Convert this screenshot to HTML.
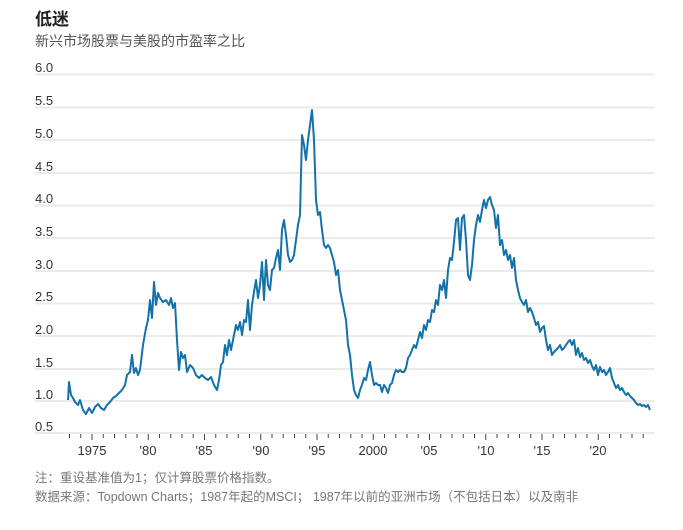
<!DOCTYPE html>
<html><head><meta charset="utf-8"><style>
body{margin:0;background:#fff;width:683px;height:525px;overflow:hidden;font-family:"Liberation Sans","Noto Sans CJK SC",sans-serif}
</style></head><body>
<svg width="683" height="525" xmlns="http://www.w3.org/2000/svg" style="font-family:'Liberation Sans','Noto Sans CJK SC',sans-serif">
<text x="35" y="25" font-size="17" font-weight="bold" fill="#222">低迷</text>
<text x="35" y="46" font-size="14" fill="#555">新兴市场股票与美股的市盈率之比</text>
<g stroke="#ebebeb" stroke-width="2">
<line x1="35" x2="655" y1="74.5" y2="74.5"/><line x1="35" x2="655" y1="107.5" y2="107.5"/>
<line x1="35" x2="655" y1="140" y2="140"/><line x1="35" x2="655" y1="173" y2="173"/>
<line x1="35" x2="655" y1="205.5" y2="205.5"/><line x1="35" x2="655" y1="238" y2="238"/>
<line x1="35" x2="655" y1="271" y2="271"/><line x1="35" x2="655" y1="303.5" y2="303.5"/>
<line x1="35" x2="655" y1="336" y2="336"/><line x1="35" x2="655" y1="369" y2="369"/>
<line x1="35" x2="655" y1="401" y2="401"/><line x1="35" x2="655" y1="433" y2="433"/>
</g>
<g font-size="13" fill="#333">
<text x="35" y="72">6.0</text><text x="35" y="105">5.5</text><text x="35" y="138">5.0</text>
<text x="35" y="171">4.5</text><text x="35" y="203">4.0</text><text x="35" y="236">3.5</text>
<text x="35" y="269">3.0</text><text x="35" y="301">2.5</text><text x="35" y="334">2.0</text>
<text x="35" y="367">1.5</text><text x="35" y="399">1.0</text><text x="35" y="431">0.5</text>
</g>
<g stroke="#444" stroke-width="1">
<line x1="69.5" x2="69.5" y1="434" y2="438"/><line x1="80.75" x2="80.75" y1="434" y2="438"/>
<line x1="92" x2="92" y1="434" y2="440"/><line x1="103.25" x2="103.25" y1="434" y2="438"/>
<line x1="114.5" x2="114.5" y1="434" y2="438"/><line x1="125.75" x2="125.75" y1="434" y2="438"/>
<line x1="137" x2="137" y1="434" y2="438"/><line x1="148.25" x2="148.25" y1="434" y2="440"/>
<line x1="159.5" x2="159.5" y1="434" y2="438"/><line x1="170.75" x2="170.75" y1="434" y2="438"/>
<line x1="182" x2="182" y1="434" y2="438"/><line x1="193.25" x2="193.25" y1="434" y2="438"/>
<line x1="204.5" x2="204.5" y1="434" y2="440"/><line x1="215.75" x2="215.75" y1="434" y2="438"/>
<line x1="227" x2="227" y1="434" y2="438"/><line x1="238.25" x2="238.25" y1="434" y2="438"/>
<line x1="249.5" x2="249.5" y1="434" y2="438"/><line x1="260.75" x2="260.75" y1="434" y2="440"/>
<line x1="272" x2="272" y1="434" y2="438"/><line x1="283.25" x2="283.25" y1="434" y2="438"/>
<line x1="294.5" x2="294.5" y1="434" y2="438"/><line x1="305.75" x2="305.75" y1="434" y2="438"/>
<line x1="317" x2="317" y1="434" y2="440"/><line x1="328.25" x2="328.25" y1="434" y2="438"/>
<line x1="339.5" x2="339.5" y1="434" y2="438"/><line x1="350.75" x2="350.75" y1="434" y2="438"/>
<line x1="362" x2="362" y1="434" y2="438"/><line x1="373.25" x2="373.25" y1="434" y2="440"/>
<line x1="384.5" x2="384.5" y1="434" y2="438"/><line x1="395.75" x2="395.75" y1="434" y2="438"/>
<line x1="407" x2="407" y1="434" y2="438"/><line x1="418.25" x2="418.25" y1="434" y2="438"/>
<line x1="429.5" x2="429.5" y1="434" y2="440"/><line x1="440.75" x2="440.75" y1="434" y2="438"/>
<line x1="452" x2="452" y1="434" y2="438"/><line x1="463.25" x2="463.25" y1="434" y2="438"/>
<line x1="474.5" x2="474.5" y1="434" y2="438"/><line x1="485.75" x2="485.75" y1="434" y2="440"/>
<line x1="497" x2="497" y1="434" y2="438"/><line x1="508.25" x2="508.25" y1="434" y2="438"/>
<line x1="519.5" x2="519.5" y1="434" y2="438"/><line x1="530.75" x2="530.75" y1="434" y2="438"/>
<line x1="542" x2="542" y1="434" y2="440"/><line x1="553.25" x2="553.25" y1="434" y2="438"/>
<line x1="564.5" x2="564.5" y1="434" y2="438"/><line x1="575.75" x2="575.75" y1="434" y2="438"/>
<line x1="587" x2="587" y1="434" y2="438"/><line x1="598.25" x2="598.25" y1="434" y2="440"/>
<line x1="609.5" x2="609.5" y1="434" y2="438"/><line x1="620.75" x2="620.75" y1="434" y2="438"/>
<line x1="632" x2="632" y1="434" y2="438"/><line x1="643.25" x2="643.25" y1="434" y2="438"/>
</g>
<g font-size="13" fill="#333" text-anchor="middle">
<text x="92" y="455">1975</text><text x="148" y="455">'80</text><text x="204" y="455">'85</text>
<text x="261" y="455">'90</text><text x="317" y="455">'95</text><text x="373" y="455">2000</text>
<text x="429" y="455">'05</text><text x="486" y="455">'10</text><text x="542" y="455">'15</text>
<text x="598" y="455">'20</text>
</g>
<polyline fill="none" stroke="#1272a9" stroke-width="2" stroke-linejoin="round" points="68,400 69,382 71,395 73,398 75,402 78,405 80,400 83,410 86,414 89,408 92,413 95,407 98,404 101,408 104,410 107,405 110,402 113,398 116,396 119,393 122,390 125,385 127,375 130,372 132,355 134,373 136,368 138,375 140,370 143,345 146,328 148,320 150,300 152,318 154,282 156,305 158,293 160,298 163,302 166,300 169,305 171,298 173,308 175,303 177,340 179,370 181,352 183,358 185,355 187,372 190,365 193,368 196,375 199,378 202,375 205,378 208,380 211,377 214,385 217,390 219,380 221,365 223,362 225,345 227,355 229,340 231,350 234,335 236,325 238,330 240,322 242,335 244,320 246,322 248,300 250,330 252,305 254,292 256,280 258,298 260,285 262,262 264,300 266,260 268,285 270,290 272,270 274,268 276,258 278,250 280,270 282,230 284,220 286,235 288,255 290,262 292,260 294,255 296,240 298,225 300,215 302,135 304,145 306,160 308,140 310,125 312,110 314,140 316,200 318,215 320,212 322,230 324,245 326,248 328,245 330,248 332,255 334,262 336,275 338,270 340,290 342,300 344,310 346,320 348,345 350,355 352,375 354,390 356,395 358,398 360,390 362,385 364,378 366,380 368,370 370,362 372,375 374,385 376,383 378,385 380,385 382,392 384,385 386,388 388,393 390,385 392,383 394,375 396,370 398,372 400,370 402,372 404,372 406,368 408,358 410,355 412,350 414,345 416,348 418,340 420,332 422,338 424,325 426,330 428,320 430,322 432,310 434,312 436,300 438,305 440,285 442,290 444,280 446,298 448,270 450,258 452,260 454,242 456,220 458,218 460,250 462,218 464,215 466,240 468,275 470,280 472,265 474,240 476,225 478,215 480,222 482,210 484,200 486,208 488,200 490,197 492,205 494,210 496,228 498,215 500,245 502,240 504,255 506,250 508,260 510,255 512,268 514,258 516,280 518,290 520,298 522,302 524,305 526,300 528,312 530,308 532,312 534,318 536,325 538,322 540,332 542,328 544,326 546,340 548,350 550,345 552,355 554,352 556,350 558,348 560,345 562,350 564,348 566,345 568,342 570,340 572,345 574,340 576,355 578,348 580,357 582,353 584,360 586,358 588,363 590,360 592,366 594,370 596,365 598,375 600,367 602,372 604,370 606,375 608,372 610,368 612,378 614,383 616,388 618,385 620,390 622,388 624,392 626,395 628,393 630,396 632,398 634,400 636,403 638,405 640,404 642,406 644,405 646,407 648,405 650,410"/>
<text x="35" y="482" font-size="12.5" fill="#777">注：重设基准值为1；仅计算股票价格指数。</text>
<text x="35" y="501" font-size="12.5" fill="#777">数据来源：Topdown Charts；1987年起的MSCI； 1987年以前的亚洲市场（不包括日本）以及南非</text>
</svg>
</body></html>
